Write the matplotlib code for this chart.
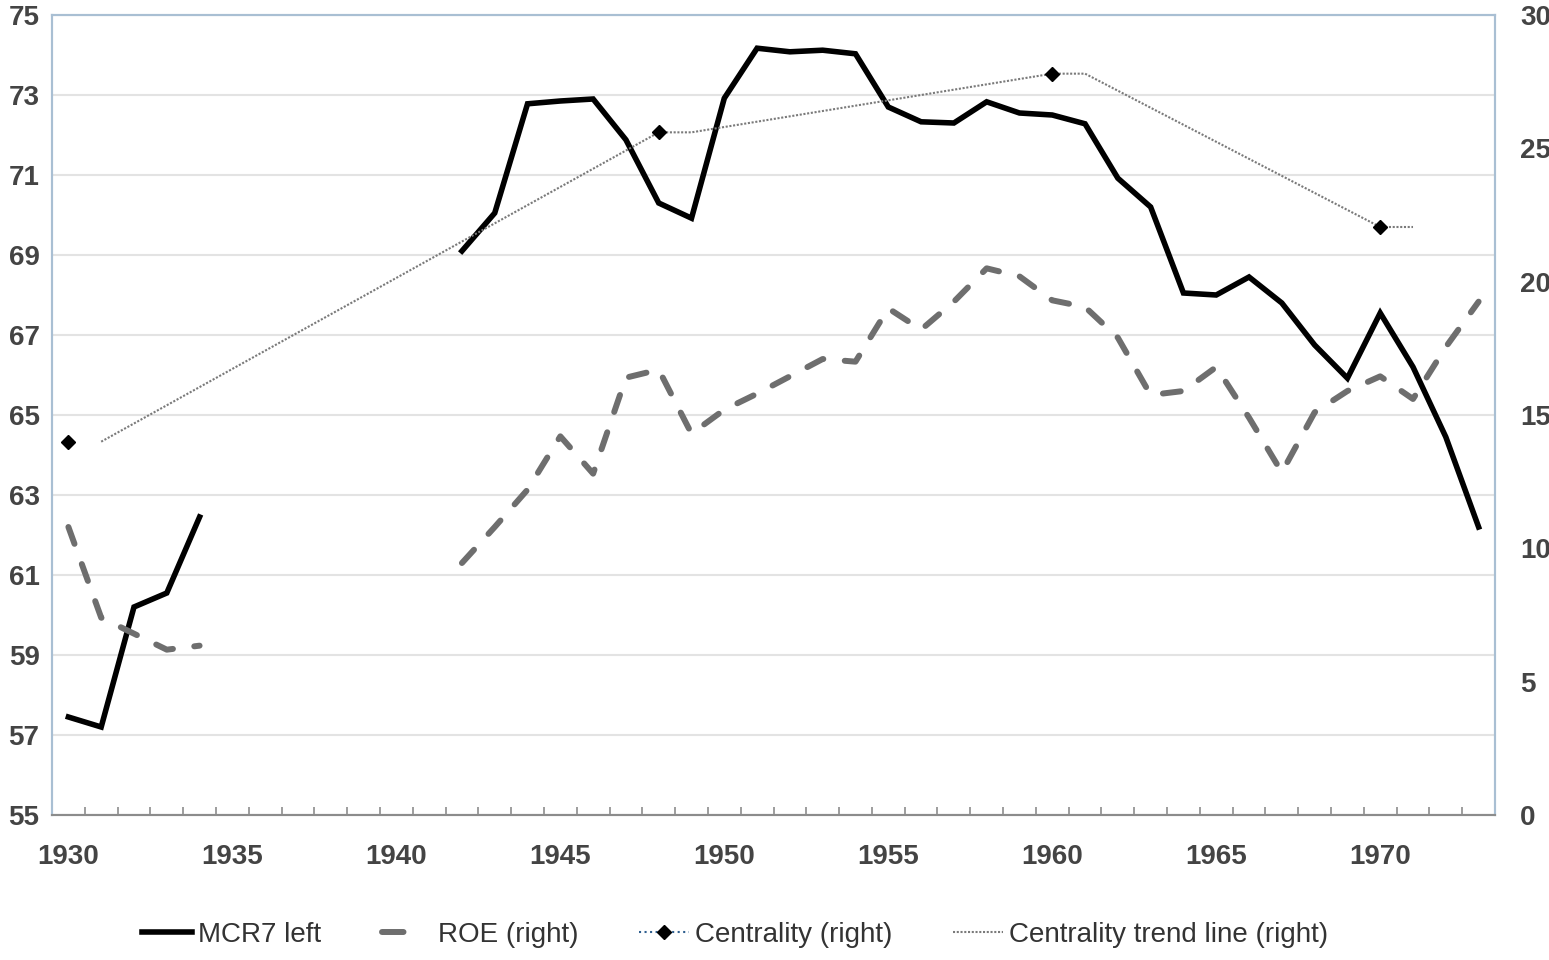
import numpy as np
import matplotlib.pyplot as plt
from matplotlib.lines import Line2D

plt.rcParams['font.family'] = ['Liberation Sans', 'DejaVu Sans']

# Years on the category axis
years = list(range(1930, 1974))

# MCR7 (left axis), no data 1935-1941
mcr7 = [57.45, 57.2, 60.2, 60.55, 62.45,
        None, None, None, None, None, None, None,
        69.1, 70.05, 72.78, 72.85, 72.9, 71.88, 70.3, 69.92,
        72.92, 74.17, 74.08, 74.12, 74.03, 72.7, 72.33, 72.3,
        72.83, 72.55, 72.5, 72.28, 70.92, 70.2, 68.05, 68.0,
        68.45, 67.8, 66.75, 65.92, 67.55, 66.2, 64.45, 62.2]

# ROE (right axis)
roe = [10.8, 7.4, 6.8, 6.2, 6.35,
       None, None, None, None, None, None, None,
       9.45, 10.8, 12.2, 14.2, 12.8, 16.4, 16.7, 14.3,
       15.2, 15.8, 16.45, 17.1, 17.0, 19.0, 18.2, 19.25,
       20.5, 20.2, 19.3, 19.05, 17.9, 15.75, 15.9, 16.8,
       14.9, 12.85, 15.1, 15.9, 16.45, 15.6, 17.55, 19.25]

# Centrality (right axis), measured only in a few years
cent_years = [1930, 1948, 1960, 1970]
cent = [14.0, 25.6, 27.8, 22.05]

# Centrality trend line (right axis), knots of the drawn line
trend_years = [1931, 1948, 1949, 1960, 1961, 1970, 1971]
trend = [14.0, 25.6, 25.6, 27.8, 27.8, 22.05, 22.05]

mcr7 = np.array(mcr7, dtype=float)
roe = np.array(roe, dtype=float)

fig = plt.figure(figsize=(15.49, 9.6), dpi=100)
ax = fig.add_axes([52 / 1549, 1 - 815 / 960, (1495 - 52) / 1549, 800 / 960])
ax2 = ax.twinx()

txt_col = '#444444'
blue_spine = '#a9bfd3'

# left axis
ax.plot(years, mcr7, color='black', lw=4, solid_joinstyle='miter', zorder=5)
ax.set_ylim(55, 75)
ax.set_yticks(range(55, 76, 2))
ax.grid(axis='y', color='#e3e3e3', lw=1.5)
ax.set_axisbelow(True)

# right axis
ax2.plot(years, roe, color='#6e6e6e', lw=4.3, dashes=(3.0, 3.6),
         dash_capstyle='round', zorder=3)
ax2.plot(trend_years, trend, color='#7a7a7a', lw=1.5, dashes=(1, 0.8), zorder=2)
ax2.plot(cent_years, cent, linestyle='none', marker='D', markersize=7,
         color='black', zorder=6)
ax2.set_ylim(0, 30)
ax2.set_yticks(range(0, 31, 5))

ax.set_xlim(1929.5, 1973.5)
ax.set_xticks(range(1930, 1971, 5))
ax.set_xticks(np.arange(1929.5, 1973.6, 1), minor=True)
ax.tick_params(axis='x', which='major', length=0, pad=21, labelsize=20, labelcolor=txt_col)
ax.tick_params(axis='x', which='minor', length=6, width=1.2, direction='in', color='#8c8c8c')
ax.tick_params(axis='y', length=0, pad=9, labelsize=20, labelcolor=txt_col)
ax2.tick_params(axis='y', length=0, pad=18, labelsize=20, labelcolor=txt_col)
for lab in ax.get_xticklabels() + ax.get_yticklabels() + ax2.get_yticklabels():
    lab.set_fontweight('bold')

for a in (ax, ax2):
    a.spines['left'].set_color(blue_spine)
    a.spines['right'].set_color(blue_spine)
    a.spines['top'].set_color(blue_spine)
    a.spines['bottom'].set_color('#8c8c8c')
    for s in a.spines.values():
        s.set_linewidth(1.5)

# legend
handles = [
    Line2D([], [], color='black', lw=4),
    Line2D([], [], color='#6e6e6e', lw=4.3, dashes=(3.6, 10), dash_capstyle='round'),
    Line2D([], [], color='#2f5f8f', lw=1.5, linestyle=':', marker='D',
           markersize=7, markerfacecolor='black', markeredgecolor='black'),
    Line2D([], [], color='#7a7a7a', lw=1.5, dashes=(1, 0.8)),
]
labels = ['MCR7 left', 'ROE (right)', 'Centrality (right)', 'Centrality trend line (right)']
fig.legend(handles, labels, loc='center', bbox_to_anchor=(735 / 1549, 1 - 935 / 960),
           ncol=4, frameon=False, fontsize=20, handlelength=1.8, handletextpad=0.2,
           columnspacing=2.2, labelcolor='#333333')

fig.savefig('out.png', dpi=100)
